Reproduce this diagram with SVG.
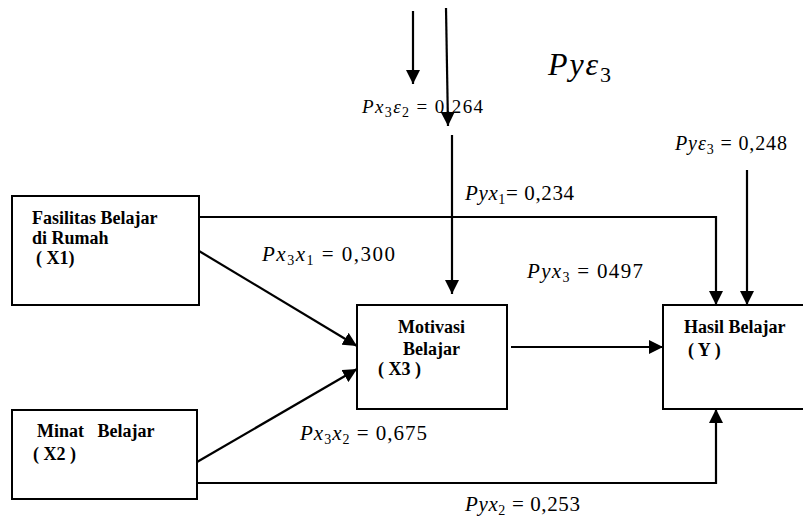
<svg xmlns="http://www.w3.org/2000/svg" width="803" height="518" viewBox="0 0 803 518">
<style>
.box{fill:#fff;stroke:#000;stroke-width:2}
.ln{fill:none;stroke:#000;stroke-width:2.2}
text{font-family:"Liberation Serif","DejaVu Serif","Times New Roman",serif;fill:#000}
.nt{font-weight:bold;font-size:18px}
.m{font-size:21px}
.i{font-style:italic}
.s{font-size:14px}
</style>
<defs>
<marker id="ah" markerUnits="userSpaceOnUse" markerWidth="14" markerHeight="14" viewBox="0 0 14 14" refX="14" refY="7" orient="auto">
<path d="M0,0 L14,7 L0,14 Z" fill="#000"/>
</marker>
</defs>
<g id="connectors">
<line class="ln" x1="413" y1="11" x2="413" y2="84" marker-end="url(#ah)"/>
<line class="ln" x1="446" y1="8" x2="448" y2="126" marker-end="url(#ah)"/>
<line class="ln" x1="452" y1="135" x2="452" y2="294" marker-end="url(#ah)"/>
<polyline class="ln" points="199,217 716,217 716,305" marker-end="url(#ah)"/>
<line class="ln" x1="747" y1="170" x2="747" y2="305" marker-end="url(#ah)"/>
<line class="ln" x1="511" y1="347" x2="663" y2="347" marker-end="url(#ah)"/>
<line class="ln" x1="199" y1="251" x2="357" y2="346" marker-end="url(#ah)"/>
<line class="ln" x1="197" y1="462" x2="357" y2="369" marker-end="url(#ah)"/>
<polyline class="ln" points="197,483 716,483 716,409" marker-end="url(#ah)"/>
</g>
<g id="x1">
<rect class="box" x="12" y="196" width="187" height="109"/>
<text class="nt" x="32" y="224">Fasilitas Belajar</text>
<text class="nt" x="32" y="244">di Rumah</text>
<text class="nt" x="36" y="264">( X1)</text>
</g>
<g id="x2">
<rect class="box" x="12" y="410" width="185" height="89"/>
<text class="nt" x="37" y="437" xml:space="preserve" style="white-space:pre">Minat   Belajar</text>
<text class="nt" x="33" y="460">( X2 )</text>
</g>
<g id="x3">
<rect class="box" x="357" y="305" width="150" height="104"/>
<text class="nt" x="398" y="333">Motivasi</text>
<text class="nt" x="403" y="355">Belajar</text>
<text class="nt" x="378" y="375">( X3 )</text>
</g>
<g id="y">
<rect class="box" x="663" y="305" width="150" height="104"/>
<text class="nt" x="684" y="333">Hasil Belajar</text>
<text class="nt" x="688" y="356">( Y )</text>
</g>
<g id="labels">
<text class="m" x="548" y="75" style="font-size:32px" textLength="63"><tspan class="i">Pyε</tspan><tspan dy="7" style="font-size:22px">3</tspan></text>
<text class="m" x="362" y="113" style="font-size:19px" textLength="121"><tspan class="i">Px</tspan><tspan class="s" dy="4">3</tspan><tspan class="i" dy="-4">ε</tspan><tspan class="s" dy="4">2</tspan><tspan dy="-4"> = 0,264</tspan></text>
<text class="m" x="675" y="150" style="font-size:20px" textLength="112"><tspan class="i">Pyε</tspan><tspan class="s" dy="4">3</tspan><tspan dy="-4"> = 0,248</tspan></text>
<text class="m" x="465" y="200" textLength="109"><tspan class="i">Pyx</tspan><tspan class="s" dy="4">1</tspan><tspan dy="-4">= 0,234</tspan></text>
<text class="m" x="262" y="261" textLength="133"><tspan class="i">Px</tspan><tspan class="s" dy="4">3</tspan><tspan class="i" dy="-4">x</tspan><tspan class="s" dy="4">1</tspan><tspan dy="-4"> = 0,300</tspan></text>
<text class="m" x="527" y="278" textLength="116"><tspan class="i">Pyx</tspan><tspan class="s" dy="4">3</tspan><tspan dy="-4"> = 0497</tspan></text>
<text class="m" x="300" y="440" textLength="127"><tspan class="i">Px</tspan><tspan class="s" dy="4">3</tspan><tspan class="i" dy="-4">x</tspan><tspan class="s" dy="4">2</tspan><tspan dy="-4"> = 0,675</tspan></text>
<text class="m" x="465" y="511" textLength="115"><tspan class="i">Pyx</tspan><tspan class="s" dy="4">2</tspan><tspan dy="-4"> = 0,253</tspan></text>
</g>
</svg>
